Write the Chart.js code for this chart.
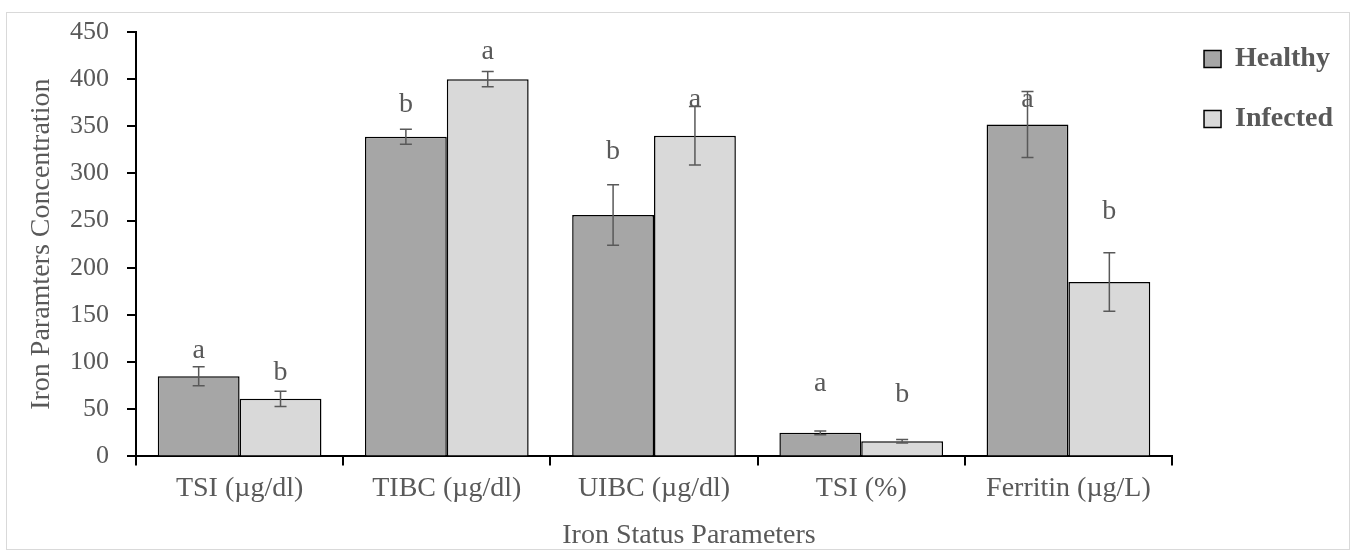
<!DOCTYPE html>
<html>
<head>
<meta charset="utf-8">
<script src="https://cdn.jsdelivr.net/npm/chart.js@4.4.1/dist/chart.umd.min.js"></script>
<style>
  body { margin: 0; background: #fff; }
  .frame {
    position: absolute; left: 6px; top: 12px;
    width: 1342px; height: 536px;
    border: 1px solid #d9d9d9;
  }
</style>
</head>
<body>
<div class="frame"><canvas id="chart"></canvas></div>
<script>
/* ===================================== 
   DATA
======================================== */  
const categories = ["TSI (µg/dl)", "TIBC (µg/dl)", "UIBC (µg/dl)", "TSI (%)", "Ferritin (µg/L)"];
const healthy = [85, 339, 256, 25, 352];
const infected = [61, 400, 340, 16, 185];
const healthyErr = [10, 8, 32, 2, 35];
const infectedErr = [8, 8, 31, 1.8, 31];
const healthyLetters = ["a", "b", "b", "a", "a"];
const infectedLetters = ["b", "a", "a", "b", "b"];
// height (in axis units) where each letter sits
const healthyLetterY = [112, 373, 323, 77, 378];
const infectedLetterY = [89, 429, 378, 66, 259];
const yTicks = [0, 50, 100, 150, 200, 250, 300, 350, 400, 450];

const errors = [healthyErr, infectedErr];
const letters = [healthyLetters, infectedLetters];
const letterY = [healthyLetterY, infectedLetterY];

const serif = "'Liberation Serif', 'Times New Roman', serif";
const grey = '#595959';

/* ===================================== 
   Error bars + letters + x title plugin
======================================== */  
const errorBarPlugin = {
  id: 'errorBars',
  afterDatasetsDraw(chart) {
    const ctx = chart.ctx;
    const yScale = chart.scales.y;
    ctx.save();
    chart.data.datasets.forEach((ds, i) => {
      const meta = chart.getDatasetMeta(i);
      meta.data.forEach((bar, j) => {
        const v = ds.data[j];
        const e = errors[i][j];
        const top = yScale.getPixelForValue(v + e);
        const bottom = yScale.getPixelForValue(v - e);
        ctx.strokeStyle = grey;
        ctx.lineWidth = 1.5;
        ctx.beginPath();
        ctx.moveTo(bar.x, top);
        ctx.lineTo(bar.x, bottom);
        ctx.moveTo(bar.x - 6, top);
        ctx.lineTo(bar.x + 6, top);
        ctx.moveTo(bar.x - 6, bottom);
        ctx.lineTo(bar.x + 6, bottom);
        ctx.stroke();

        ctx.fillStyle = grey;
        ctx.font = "28px " + serif;
        ctx.textAlign = 'center';
        ctx.textBaseline = 'middle';
        ctx.fillText(letters[i][j], bar.x, yScale.getPixelForValue(letterY[i][j]));
      });
    });

    // x axis title (sits a bit right of centre, like the original)
    const area = chart.chartArea;
    ctx.fillStyle = grey;
    ctx.font = "28px " + serif;
    ctx.textAlign = 'center';
    ctx.textBaseline = 'middle';
    ctx.fillText('Iron Status Parameters', (area.left + area.right) / 2 + 35, chart.height - 13);
    ctx.restore();
  }
};

/* ===================================== 
   CHART
======================================== */  
const chartCanvas = document.getElementById("chart");

const chartData = {
  labels: categories,
  datasets: [{
    label: 'Healthy',
    data: healthy,
    backgroundColor: '#a6a6a6',
    borderColor: '#000',
    borderWidth: 1.5,
    categoryPercentage: 0.79,
    barPercentage: 1
  }, {
    label: 'Infected',
    data: infected,
    backgroundColor: '#d9d9d9',
    borderColor: '#000',
    borderWidth: 1.5,
    categoryPercentage: 0.79,
    barPercentage: 1
  }]
};

const chartOptions = {
  responsive: true,
  maintainAspectRatio: false,
  animation: { duration: 0 },
  layout: { padding: { top: 0, right: 6, bottom: 38, left: 14 } },
  scales: {
    x: {
      afterFit(axis) {
        axis.paddingLeft = 0;
        axis.paddingRight = 0;
      },
      grid: {
        offset: true,
        drawOnChartArea: false,
        drawTicks: true,
        tickLength: 9,
        color: '#000',
        lineWidth: 2
      },
      border: { color: '#000', width: 2 },
      ticks: { color: grey, font: { family: serif, size: 28 }, padding: 6, maxRotation: 0 }
    },
    y: {
      min: 0,
      max: 450,
      afterBuildTicks(axis) { axis.ticks = yTicks.map(v => ({ value: v })); },
      afterFit(axis) {
        axis.width = 115;
        axis.paddingTop = 19;
        axis.paddingBottom = 0;
      },
      grid: {
        drawOnChartArea: false,
        drawTicks: true,
        tickLength: 9,
        color: '#000',
        lineWidth: 2
      },
      border: { color: '#000', width: 2 },
      ticks: { color: grey, font: { family: serif, size: 26 }, padding: 18 },
      title: {
        display: true,
        text: 'Iron Paramters Concentration',
        color: grey,
        font: { family: serif, size: 28 },
        padding: { top: 4, bottom: 0 }
      }
    }
  },
  plugins: {
    legend: {
      position: 'right',
      align: 'start',
      labels: {
        color: grey,
        boxWidth: 17,
        boxHeight: 17,
        padding: 32,
        font: { family: serif, size: 28, weight: 'bold' }
      }
    },
    tooltip: { enabled: false }
  }
};

let chart = new Chart(chartCanvas, {
  type: 'bar',
  data: chartData,
  options: chartOptions,
  plugins: [errorBarPlugin]
});
</script>
</body>
</html>
